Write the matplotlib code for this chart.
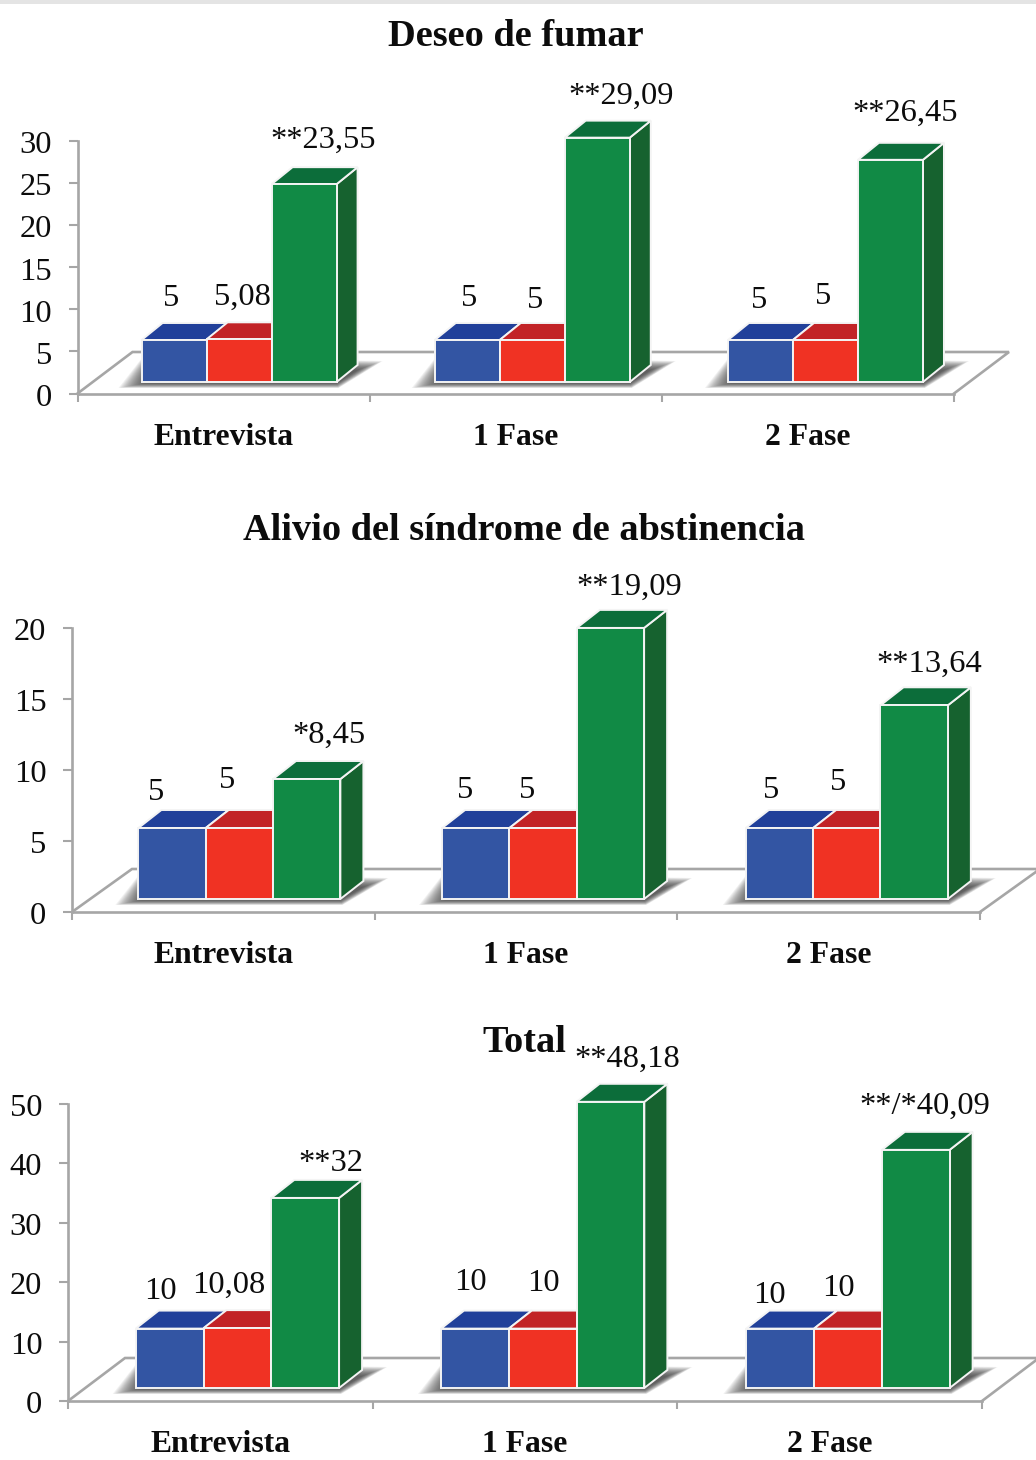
"""Three 3D-look grouped bar panels: craving, withdrawal relief and total score."""

import matplotlib

matplotlib.use("Agg")

import matplotlib.pyplot as plt
import numpy as np
from matplotlib.patches import Polygon, Rectangle
from matplotlib.transforms import Affine2D

WIDTH, HEIGHT = 1036, 1460
DPI = 100

CATEGORIES = ["Entrevista", "1 Fase", "2 Fase"]

DESEO_VALUES = [[5, 5.08, 23.55], [5, 5, 29.09], [5, 5, 26.45]]
DESEO_LABELS = [["5", "5,08", "**23,55"], ["5", "5", "**29,09"], ["5", "5", "**26,45"]]
DESEO_TICKS = [0, 5, 10, 15, 20, 25, 30]

ALIVIO_VALUES = [[5, 5, 8.45], [5, 5, 19.09], [5, 5, 13.64]]
ALIVIO_LABELS = [["5", "5", "*8,45"], ["5", "5", "**19,09"], ["5", "5", "**13,64"]]
ALIVIO_TICKS = [0, 5, 10, 15, 20]

TOTAL_VALUES = [[10, 10.08, 32], [10, 10, 48.18], [10, 10, 40.09]]
TOTAL_LABELS = [["10", "10,08", "**32"], ["10", "10", "**48,18"], ["10", "10", "**/*40,09"]]
TOTAL_TICKS = [0, 10, 20, 30, 40, 50]

# front, top and side face of each series
FACE_COLORS = [
    ("#3355a3", "#21409a", "#21409a"),
    ("#f03223", "#c22326", "#c22326"),
    ("#118a45", "#0c6d3a", "#16622f"),
]
GRID_COLOR = "#a6a6a6"
TEXT_COLOR = "#0c0c0c"
BAR_WIDTH = 0.2225
TITLE_SIZE = 27.6
CATEGORY_SIZE = 22.8
VALUE_SIZE = 23.4

plt.rcParams["font.family"] = ["Liberation Serif", "DejaVu Serif"]


def add_poly(ax, points, **kwargs):
    """Add a polygon given in pixel coordinates."""
    patch = Polygon(points, closed=True, transform=Affine2D(), clip_on=False, **kwargs)
    ax.add_patch(patch)
    return patch


def draw_shadow(ax, x0, x1, y, depth):
    # soft shadow built from stacked translucent polygons
    outer = np.array([(x0 - 23, y - 6), (x1 + 2, y - 6), (x1 + depth[0] + 25, y + 21),
                      (x0 + 2, y + 26)], dtype=float)
    inner = np.array([(x0 + 5, y - 1), (x1, y - 1), (x1 + depth[0], y + 12),
                      (x0 + 5, y + 12)], dtype=float)
    for t in np.linspace(0, 1, 20):
        add_poly(ax, outer + (inner - outer) * t, facecolor="#303030", edgecolor="none",
                 alpha=0.065, zorder=2)


def draw_bar(ax, x, value, lift, depth, colors, zorder):
    left, right = x - BAR_WIDTH / 2, x + BAR_WIDTH / 2
    (xl, yb), (xr, yt) = ax.transData.transform([(left, 0), (right, value)])
    yb, yt = yb + lift, yt + lift
    dx, dy = depth
    edge = dict(edgecolor="#f4f4f4", linewidth=1.4, zorder=zorder, joinstyle="miter")
    add_poly(ax, [(xr, yb), (xr + dx, yb + dy), (xr + dx, yt + dy), (xr, yt)],
             facecolor=colors[2], **edge)
    add_poly(ax, [(xl, yt), (xr, yt), (xr + dx, yt + dy), (xl + dx, yt + dy)],
             facecolor=colors[1], **edge)
    add_poly(ax, [(xl, yb), (xr, yb), (xr, yt), (xl, yt)], facecolor=colors[0], **edge)
    return (xl + xr) / 2, yt


def draw_panel(box, values, labels, ticks, title, title_pos, lift, depth, floor, shift, step,
               offsets):
    x_left, x_right, y_zero, y_top = box
    ax = fig.add_axes([x_left / WIDTH, 1 - y_zero / HEIGHT,
                       (x_right - x_left) / WIDTH, (y_zero - y_top) / HEIGHT])
    ax.patch.set_visible(False)
    ax.set_xlim(0, len(CATEGORIES))
    ax.set_ylim(0, ticks[-1])

    for name in ("top", "right"):
        ax.spines[name].set_visible(False)
    for name in ("left", "bottom"):
        ax.spines[name].set_color(GRID_COLOR)
        ax.spines[name].set_linewidth(1.9)
        ax.spines[name].set_zorder(1)

    ax.set_yticks(ticks)
    ax.set_xticks(range(len(CATEGORIES) + 1))
    ax.set_xticklabels([])
    ax.set_xticks(np.arange(len(CATEGORIES)) + 0.5, minor=True)
    ax.set_xticklabels(CATEGORIES, minor=True, fontsize=CATEGORY_SIZE, fontweight="bold",
                       color=TEXT_COLOR)
    ax.tick_params(axis="y", length=6.5, width=1.5, color=GRID_COLOR, pad=12,
                   labelsize=VALUE_SIZE, labelcolor=TEXT_COLOR)
    ax.tick_params(axis="x", which="major", length=6, width=1.5, color=GRID_COLOR)
    ax.tick_params(axis="x", which="minor", length=0, pad=21)
    # y labels sit a little under their ticks
    for tick_label in ax.get_yticklabels():
        tick_label.set_transform(tick_label.get_transform() + Affine2D().translate(0, -1))

    # floor outline behind the bars
    px0, py0 = ax.transData.transform((0, 0))
    px1, _ = ax.transData.transform((len(CATEGORIES), 0))
    fx, fy = floor
    ax.plot([px0, px0 + fx, px1 + fx, px1],
            [py0, py0 + fy, py0 + fy, py0],
            transform=Affine2D(), color=GRID_COLOR, lw=1.9, clip_on=False, zorder=1,
            solid_joinstyle="miter")

    for g, group in enumerate(values):
        xs = [0.5 + g * step + shift + (s - 1) * BAR_WIDTH for s in range(len(group))]
        (xa, base), (xb, _) = ax.transData.transform([(xs[0] - BAR_WIDTH / 2, 0),
                                                      (xs[-1] + BAR_WIDTH / 2, 0)])
        draw_shadow(ax, xa, xb, base + lift, depth)
        for s, value in enumerate(group):
            cx, top = draw_bar(ax, xs[s], value, lift, depth, FACE_COLORS[s], 3 + s)
            dx, dy = offsets[g][s]
            ax.text(cx + dx, top + dy, labels[g][s], transform=Affine2D(), fontsize=VALUE_SIZE,
                    ha="center", va="center", color=TEXT_COLOR, zorder=8, clip_on=False)

    fig.text(title_pos[0] / WIDTH, 1 - title_pos[1] / HEIGHT, title, fontsize=TITLE_SIZE,
             fontweight="bold", ha="center", va="center", color=TEXT_COLOR)
    return ax


fig = plt.figure(figsize=(WIDTH / DPI, HEIGHT / DPI), dpi=DPI, facecolor="white")
fig.add_artist(Rectangle((0, 1 - 4 / HEIGHT), 1, 4 / HEIGHT, transform=fig.transFigure,
                         facecolor="#e4e4e4", edgecolor="none"))

draw_panel((77.5, 954, 393.5, 141.5), DESEO_VALUES, DESEO_LABELS, DESEO_TICKS,
           "Deseo de fumar", (516, 36), 11.5, (21, 17), (55, 41.5), 0.053, 1.0035,
           [[(-2.5, 42), (3.5, 42), (19.5, 44)],
            [(1.5, 42), (2.5, 40), (23.5, 41)],
            [(-1.5, 40), (-2.5, 44), (14.5, 46)]])
draw_panel((72, 980, 912, 628), ALIVIO_VALUES, ALIVIO_LABELS, ALIVIO_TICKS,
           "Alivio del síndrome de abstinencia", (524, 530), 13, (23, 18), (60, 43), 0.053, 1.0035,
           [[(-15.5, 35), (-12.5, 47), (22.5, 44)],
            [(-10.5, 37), (-15.5, 37), (19, 41)],
            [(-8.5, 37), (-8.5, 46), (15.5, 41)]])
draw_panel((68, 982, 1401, 1104), TOTAL_VALUES, TOTAL_LABELS, TOTAL_TICKS,
           "Total", (524, 1043), 13, (23, 18), (57, 43), 0.056, 1.002,
           [[(-9.5, 37), (-9, 43), (26, 34)],
            [(-4.5, 46), (1, 45), (17, 42)],
            [(-10.5, 33), (-10, 40), (9, 44)]])

fig.savefig("out.png", dpi=DPI)
